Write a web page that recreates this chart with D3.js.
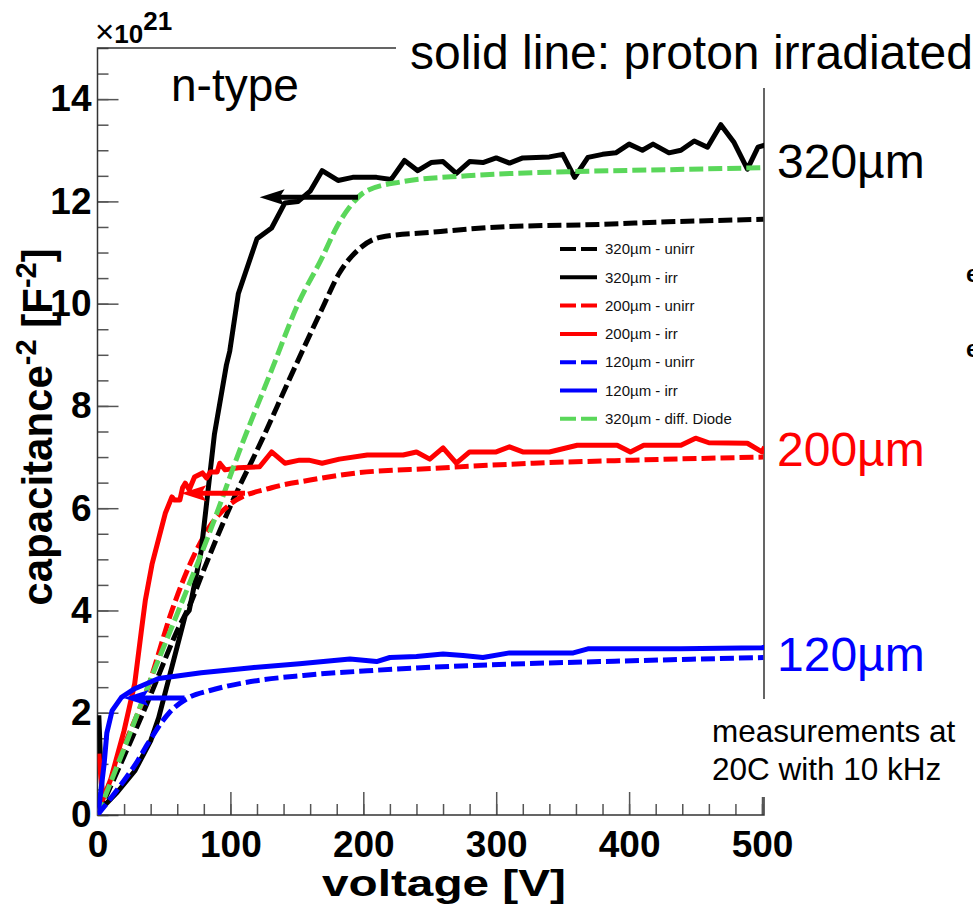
<!DOCTYPE html>
<html>
<head>
<meta charset="utf-8">
<script src="https://cdn.jsdelivr.net/npm/d3@7"></script>
<style>
  html, body { margin: 0; padding: 0; background: #fff; }
  svg { display: block; font-family: "Liberation Sans", Arial, sans-serif; }
</style>
</head>
<body>
<svg id="chart" width="973" height="908"></svg>
<script>
// C^-2 vs bias voltage, values in units of 1e21 F^-2
var unirr320 = [[0,0],[20,1.15],[40,2.35],[59,3.55],[71,4.2],[77,4.6],[101,6.1],[124,7.35],[144,8.5],[169,9.9],[182,10.6],[196,11.05],[213,11.3],[253,11.4],[303,11.5],[378,11.55],[429,11.6],[501,11.65]];
var irr320 = [[1,1.95],[2,1.25],[4,0.15],[15,0.45],[28,0.86],[40,1.45],[46,1.9],[53,2.6],[60,3.3],[66,3.9],[69,4.0],[78,5.16],[88,7.45],[97,8.8],[99.5,9.07],[106,10.2],[120,11.27],[131,11.48],[141,11.97],[151,12.0],[160,12.2],[169,12.6],[181,12.41],[192,12.47],[210,12.47],[221,12.43],[231,12.8],[241,12.6],[251,12.76],[260,12.78],[270,12.55],[280,12.78],[290,12.76],[300,12.85],[310,12.75],[320,12.85],[330,12.86],[340,12.87],[350,12.92],[359,12.47],[369,12.86],[380,12.92],[390,12.95],[400,13.12],[410,13.0],[418,13.12],[430,12.95],[439,13.0],[449,13.18],[459,13.06],[469,13.5],[479,13.15],[489,12.63],[497,13.06],[502,13.1]];
var unirr200 = [[0,0],[20,1.35],[38,2.5],[56,4.0],[73,5.1],[86,5.7],[101,6.1],[131,6.4],[160,6.55],[192,6.68],[253,6.78],[328,6.88],[403,6.94],[501,7.0]];
var irr200 = [[1,1.2],[2,0.9],[4,0.3],[10,0.7],[20,1.65],[28,2.57],[33,3.6],[36,4.2],[41,4.9],[46,5.4],[51,5.9],[56,6.22],[58,6.16],[62,6.16],[64,6.4],[66,6.49],[69,6.36],[73,6.61],[79,6.69],[82,6.59],[85,6.71],[90,6.71],[92,6.88],[96,6.75],[106,6.79],[122,6.81],[131,7.1],[141,6.88],[152,6.94],[159,6.94],[169,6.88],[182,6.96],[203,7.04],[230,7.04],[240,7.1],[250,6.96],[260,7.18],[270,6.88],[280,7.1],[300,7.1],[310,7.2],[320,7.1],[340,7.1],[361,7.23],[391,7.23],[401,7.1],[411,7.23],[439,7.23],[450,7.37],[460,7.28],[489,7.27],[500,7.1],[502,7.2]];
var unirr120 = [[0,0],[15,0.5],[30,1.05],[38,1.4],[54,2.0],[69,2.3],[84,2.43],[111,2.59],[155,2.73],[203,2.82],[278,2.92],[378,3.0],[501,3.08]];
var irr120 = [[0.5,0.05],[2,0.35],[5,1.0],[7,1.6],[11,2.04],[18,2.3],[28,2.47],[46,2.67],[60,2.72],[78,2.78],[116,2.88],[152,2.96],[170,3.0],[190,3.05],[210,3.0],[220,3.08],[240,3.1],[260,3.15],[275,3.12],[290,3.08],[310,3.17],[358,3.17],[369,3.25],[403,3.25],[439,3.25],[500,3.27],[502,3.28]];
var diff320 = [[0,0],[20,1.3],[40,2.65],[61,4.0],[84,5.5],[108,7.2],[131,8.7],[151,10.0],[169,10.9],[180,11.5],[190,11.9],[202,12.2],[228,12.38],[278,12.5],[353,12.58],[429,12.62],[501,12.66]];

var legendLabels = ['320\u00b5m - unirr', '320\u00b5m - irr', '200\u00b5m - unirr', '200\u00b5m - irr', '120\u00b5m - unirr', '120\u00b5m - irr', '320\u00b5m - diff. Diode'];
var xTicks = [0, 100, 200, 300, 400, 500];
var yTicks = [0, 2, 4, 6, 8, 10, 12, 14];

// depletion arrows (voltage from tail to tip, at a C^-2 level)
var arrowLevels = [12.08, 6.29, 2.29];
var arrowTails = [196, 111, 65.5];
var arrowTips = [122, 63, 19.6];

var GREEN = '#5ad75a';

// legend order, drawing order is below
var series = [
  {data: unirr320, color: '#000', dashed: true},
  {data: irr320, color: '#000', dashed: false},
  {data: unirr200, color: '#ff0000', dashed: true},
  {data: irr200, color: '#ff0000', dashed: false},
  {data: unirr120, color: '#0000ff', dashed: true},
  {data: irr120, color: '#0000ff', dashed: false},
  {data: diff320, color: GREEN, dashed: true}
];
var drawOrder = [0, 2, 1, 3, 6, 4, 5];

var svg = d3.select('#chart');
var x = d3.scaleLinear().domain([0, 501.5]).range([97.5, 764]);
var y = d3.scaleLinear().domain([0, 15]).range([815, 48]);

svg.append('rect').attr('width', 973).attr('height', 908).attr('fill', '#fff');

svg.append('defs').append('clipPath').attr('id', 'plotclip')
  .append('rect')
  .attr('x', x(0)).attr('y', y(15))
  .attr('width', x(501.5) - x(0)).attr('height', y(0) - y(15));

//minor ticks first, then majors with labels
svg.append('g')
  .attr('transform', 'translate(' + x(0) + ',0)')
  .call(d3.axisLeft(y).tickValues(d3.range(0, 15.01, 0.5)).tickSize(-11).tickFormat(''))
  .call(function(g) { g.select('.domain').remove(); });
svg.append('g')
  .attr('transform', 'translate(0,' + y(0) + ')')
  .call(d3.axisBottom(x).tickValues(d3.range(0, 501, 20)).tickSize(-11).tickFormat(''))
  .call(function(g) { g.select('.domain').remove(); });

var yAxis = svg.append('g')
  .attr('transform', 'translate(' + x(0) + ',0)')
  .call(d3.axisLeft(y).tickValues(yTicks).tickSize(-21).tickPadding(6).tickFormat(d3.format('d')));
var xAxis = svg.append('g')
  .attr('transform', 'translate(0,' + y(0) + ')')
  .call(d3.axisBottom(x).tickValues(xTicks).tickSize(-23).tickPadding(16).tickFormat(d3.format('d')));

[yAxis, xAxis].forEach(function(g) {
  g.select('.domain').remove();
  g.selectAll('text').attr('font-size', 37).attr('font-weight', 'bold')
    .attr('font-family', '"Liberation Sans", Arial, sans-serif').attr('fill', '#000');
});
svg.selectAll('.tick line').attr('stroke', '#555').attr('stroke-width', 1.5);

// frame
svg.append('path')
  .attr('d', 'M' + x(501.5) + ',' + y(0) + 'H' + x(0) + 'V' + y(15) + 'H' + x(501.5) + 'Z')
  .attr('fill', 'none').attr('stroke', '#333').attr('stroke-width', 1.5);

// curves
var line = d3.line().x(function(d) { return x(d[0]); }).y(function(d) { return y(d[1]); });
var smooth = d3.line().curve(d3.curveMonotoneX).x(function(d) { return x(d[0]); }).y(function(d) { return y(d[1]); });

var curves = svg.append('g').attr('clip-path', 'url(#plotclip)');
drawOrder.forEach(function(i) {
  var s = series[i];
  curves.append('path')
    .attr('d', s.dashed ? smooth(s.data) : line(s.data))
    .attr('fill', 'none')
    .attr('stroke', s.color)
    .attr('stroke-width', 5)
    .attr('stroke-linejoin', 'round')
    .attr('stroke-dasharray', s.dashed ? '14,5' : null);
});

// arrows, pointing to lower voltage
var arrowColors = ['#000', '#ff0000', '#0000ff'];
arrowLevels.forEach(function(lv, i) {
  var ty = y(lv), tip = x(arrowTips[i]), tail = x(arrowTails[i]);
  svg.append('line')
    .attr('x1', tail).attr('x2', tip + 18).attr('y1', ty).attr('y2', ty)
    .attr('stroke', arrowColors[i]).attr('stroke-width', 5);
  svg.append('path')
    .attr('d', 'M' + tip + ',' + ty + 'L' + (tip + 25) + ',' + (ty - 8) + 'L' + (tip + 20) + ',' + ty + 'L' + (tip + 25) + ',' + (ty + 8) + 'Z')
    .attr('fill', arrowColors[i]);
});

// legend
var legend = svg.append('g').attr('transform', 'translate(560,249)');
legendLabels.forEach(function(lbl, i) {
  var s = series[i];
  var row = legend.append('g').attr('transform', 'translate(0,' + (i * 28.3) + ')');
  row.append('line')
    .attr('x1', 0).attr('x2', 37).attr('y1', 0).attr('y2', 0)
    .attr('stroke', s.color).attr('stroke-width', 4)
    .attr('stroke-dasharray', s.dashed ? '16,5' : null);
  row.append('text')
    .attr('x', 45).attr('y', 0).attr('dy', '0.35em')
    .attr('font-size', 15).attr('fill', '#111')
    .text(lbl);
});

// white boxes behind the slide annotations hide part of the frame
svg.append('rect').attr('x', 396).attr('y', 18).attr('width', 577).attr('height', 70).attr('fill', '#fff');
svg.append('rect').attr('x', 705).attr('y', 699).attr('width', 268).attr('height', 98).attr('fill', '#fff');

function txt(str, px, py, size, opts) {
  opts = opts || {};
  return svg.append('text')
    .attr('x', px).attr('y', py)
    .attr('font-size', size)
    .attr('font-weight', opts.bold ? 'bold' : null)
    .attr('fill', opts.color || '#000')
    .attr('text-anchor', opts.anchor || null)
    .text(str);
}

txt('solid line: proton irradiated', 410, 69, 48);
txt('n-type', 171, 101, 46);
txt('320\u00b5m', 777, 178, 48);
txt('200\u00b5m', 777, 466, 48, {color: '#ff0000'});
txt('120\u00b5m', 777, 671, 48, {color: '#0000ff'});
txt('measurements at', 712, 742, 31.5);
txt('20C with 10 kHz', 712, 780, 31.5);
// bits of slide text that are cut off at the right edge
txt('e', 966, 282, 24, {bold: true});
txt('e', 966, 357, 24, {bold: true});

// exponent of the y axis
var expo = svg.append('text').attr('x', 95).attr('y', 43).attr('font-size', 26);
expo.append('tspan').attr('font-size', 33).text('\u00d7');
expo.append('tspan').attr('font-weight', 'bold').text('10');
expo.append('tspan').attr('font-weight', 'bold').attr('font-size', 26).attr('dy', -13).text('21');

// axis titles
svg.append('text')
  .attr('x', 322).attr('y', 896)
  .attr('font-size', 37).attr('font-weight', 'bold')
  .attr('textLength', 244).attr('lengthAdjust', 'spacingAndGlyphs')
  .text('voltage [V]');

var ytitle = svg.append('text')
  .attr('transform', 'translate(52,427) rotate(-90)')
  .attr('text-anchor', 'middle').attr('font-size', 42).attr('font-weight', 'bold');
ytitle.append('tspan').text('capacitance');
ytitle.append('tspan').attr('font-size', 29).attr('dy', -16).text('-2');
ytitle.append('tspan').attr('dy', 16).text(' [F');
ytitle.append('tspan').attr('font-size', 29).attr('dy', -16).text('-2');
ytitle.append('tspan').attr('dy', 16).text(']');
</script>
</body>
</html>
